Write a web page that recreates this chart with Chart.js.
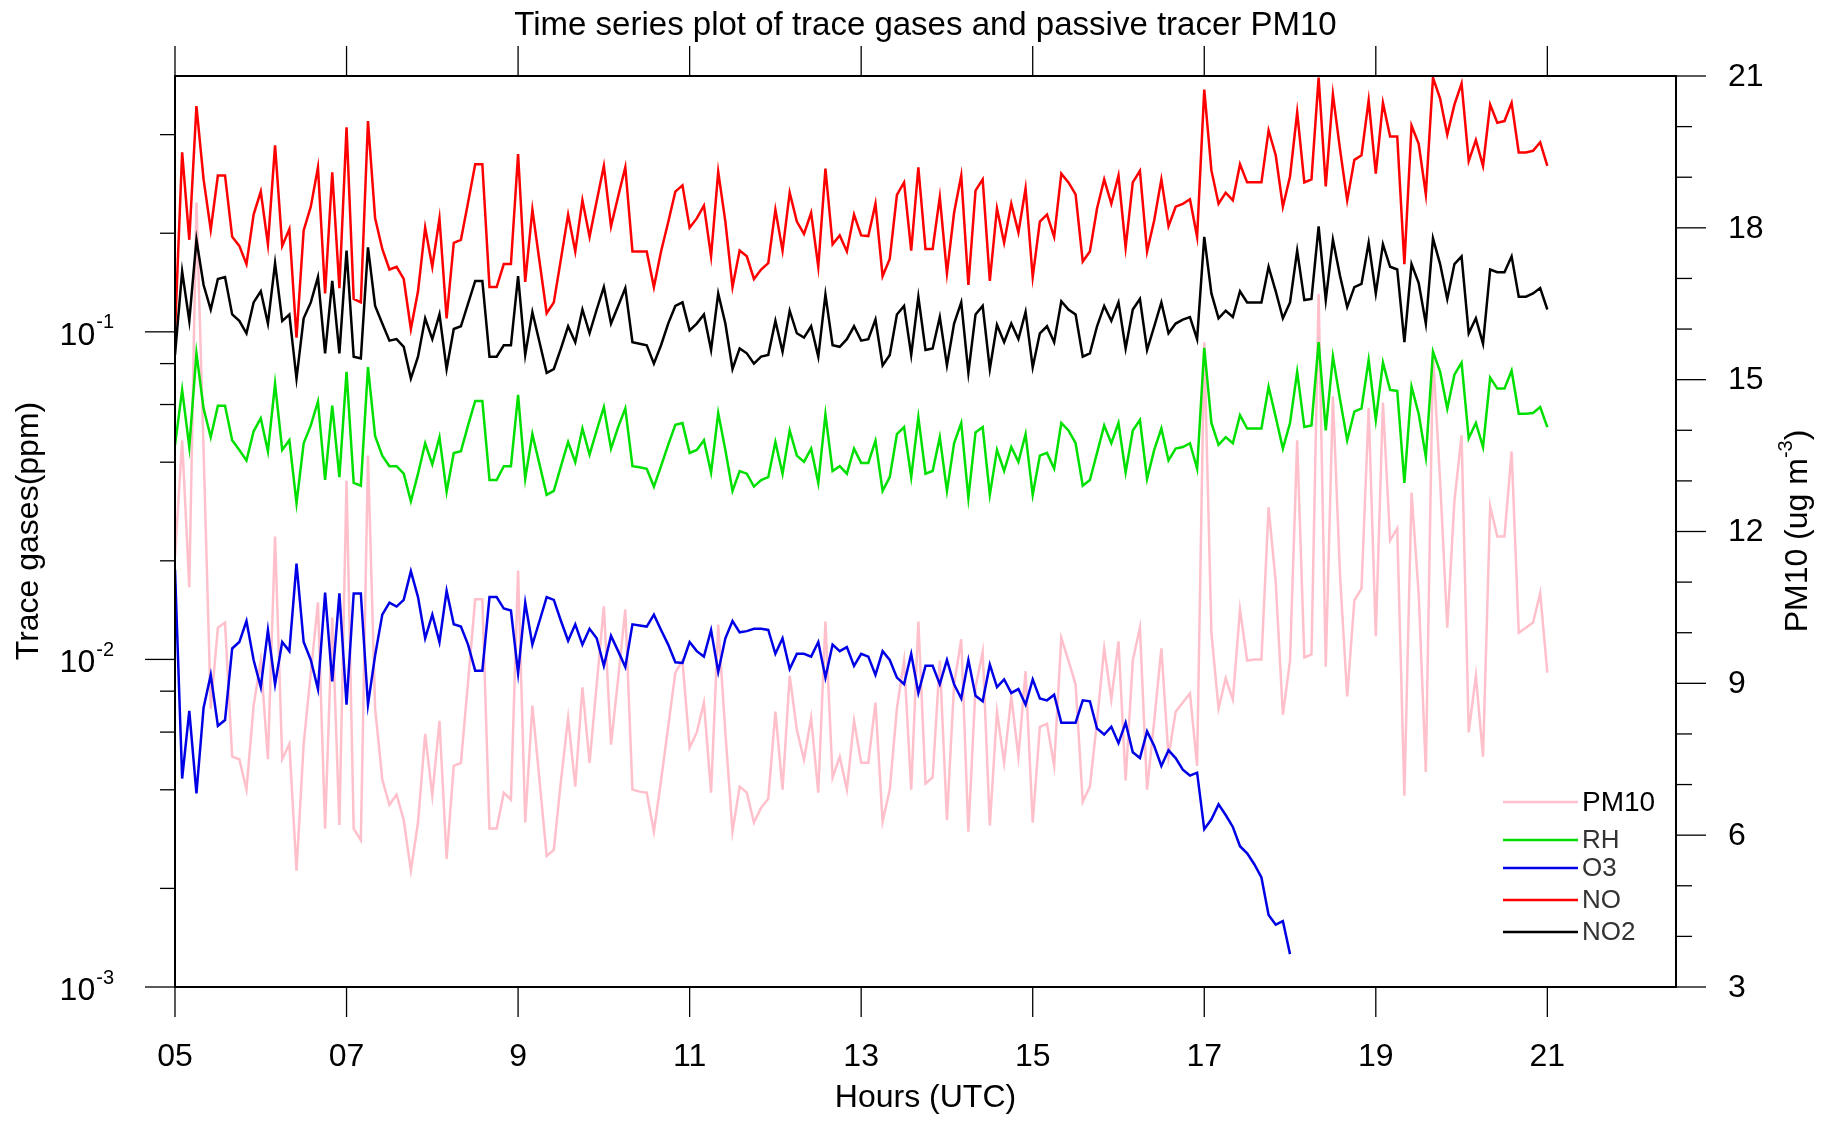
<!DOCTYPE html>
<html><head><meta charset="utf-8">
<script src="https://cdn.jsdelivr.net/npm/chart.js@4.4.1/dist/chart.umd.min.js"></script>
<style>html,body{margin:0;padding:0;background:#fff;}canvas{display:block;}</style>
</head><body>
<canvas id="c" width="1831" height="1122"></canvas>
<script>
// ---------------- data ----------------
const startHour = 5;
const stepMinutes = 5;
const xTickValues = [5, 7, 9, 11, 13, 15, 17, 19, 21];
const xTickLabels = ['05', '07', '9', '11', '13', '15', '17', '19', '21'];
const leftMajorTicks = [0.001, 0.01, 0.1];
const leftMajorExponents = ['-3', '-2', '-1'];
const leftMinorTicks = [0.002, 0.004, 0.006, 0.008, 0.02, 0.04, 0.06, 0.08, 0.2, 0.4];
const rightMajorTicks = [3, 6, 9, 12, 15, 18, 21];
const rightMinorTicks = [4, 5, 7, 8, 10, 11, 13, 14, 16, 17, 19, 20];
const seriesNames = ['PM10', 'RH', 'O3', 'NO', 'NO2'];

// NO (ppm), every 5 min from 05:00 to 21:00
const no = [
 0.100,0.353,0.191,0.489,0.292,0.205,0.300,0.300,0.195,0.183,0.161,0.228,
 0.268,0.185,0.371,0.183,0.206,0.096,0.204,0.241,0.318,0.131,0.307,0.136,
 0.421,0.126,0.123,0.440,0.222,0.179,0.155,0.158,0.145,0.102,0.133,0.208,
 0.158,0.222,0.110,0.187,0.191,0.248,0.325,0.325,0.137,0.137,0.161,0.161,
 0.349,0.142,0.236,0.164,0.114,0.123,0.167,0.228,0.176,0.252,0.195,0.251,
 0.321,0.210,0.259,0.318,0.176,0.176,0.176,0.137,0.176,0.216,0.268,0.280,
 0.208,0.222,0.243,0.170,0.308,0.217,0.137,0.177,0.170,0.145,0.155,0.162,
 0.236,0.177,0.266,0.217,0.199,0.231,0.158,0.315,0.185,0.197,0.176,0.228,
 0.197,0.196,0.246,0.148,0.167,0.262,0.286,0.177,0.318,0.179,0.179,0.258,
 0.151,0.231,0.300,0.139,0.270,0.292,0.143,0.238,0.187,0.246,0.201,0.274,
 0.147,0.217,0.228,0.195,0.304,0.286,0.263,0.164,0.176,0.238,0.292,0.246,
 0.300,0.181,0.286,0.310,0.176,0.219,0.292,0.210,0.241,0.246,0.254,0.195,
 0.549,0.311,0.246,0.266,0.252,0.325,0.286,0.286,0.286,0.412,0.346,0.241,
 0.298,0.468,0.286,0.292,0.597,0.278,0.531,0.360,0.252,0.335,0.346,0.509,
 0.304,0.500,0.395,0.395,0.161,0.426,0.375,0.263,0.597,0.515,0.400,0.494,
 0.573,0.332,0.385,0.321,0.494,0.435,0.440,0.500,0.353,0.353,0.357,0.379,
 0.321];

// NO2 (ppm)
const no2 = [
 0.085,
 0.153,0.108,0.191,0.139,0.117,0.145,0.147,0.113,0.108,0.099,0.123,0.133,0.106,0.162,0.108,0.113,0.072,0.110,0.123,0.147,
 0.086,0.143,0.086,0.177,0.084,0.083,0.181,0.120,0.106,0.094,0.095,0.090,0.072,0.084,0.110,
 0.095,0.113,0.077,0.102,0.104,0.122,0.143,0.143,0.084,0.084,0.091,0.091,0.148,0.085,0.115,0.093,0.075,0.077,0.089,0.104,
 0.093,0.117,0.099,0.117,0.137,0.106,0.120,0.136,0.093,0.092,0.091,0.080,0.091,0.106,0.120,
 0.123,0.101,0.106,0.113,0.088,0.131,0.106,0.077,0.089,0.086,0.080,0.084,0.085,0.108,0.087,0.116,0.099,0.096,0.104,0.084,
 0.130,0.091,0.090,0.095,0.104,0.094,0.095,0.109,0.079,0.085,0.113,0.120,0.085,0.128,0.088,
 0.089,0.111,0.079,0.106,0.123,0.075,0.113,0.120,0.077,0.105,0.093,0.106,0.095,0.115,0.078,0.099,0.104,0.093,0.124,0.117,
 0.113,0.084,0.086,0.104,0.120,0.108,0.123,0.089,0.117,0.126,0.088,0.104,0.123,0.099,0.106,
 0.109,0.111,0.095,0.195,0.131,0.110,0.116,0.111,0.133,0.123,0.123,0.123,0.158,0.133,0.110,0.123,0.177,0.125,0.126,0.210,
 0.125,0.191,0.148,0.119,0.137,0.140,0.187,0.131,0.185,0.158,0.155,0.093,0.161,0.141,0.106,
 0.193,0.161,0.126,0.161,0.170,0.099,0.110,0.092,0.155,0.152,0.152,0.170,0.128,0.128,0.131,0.136,0.117];

// RH series (drawn on the trace-gas axis)
const rh = [
 0.045,
 0.0665,0.0445,0.086,0.0583,0.0477,0.0595,0.0595,0.0467,0.0436,0.0405,0.0497,0.0545,0.0432,0.0694,0.0436,0.0467,0.030,0.0457,0.0518,0.0613,
 0.0353,0.0595,0.036,0.0755,0.0346,0.0339,0.078,0.048,0.0419,0.0389,0.0389,0.0369,0.0304,0.0369,0.0457,
 0.0394,0.0477,0.0325,0.0427,0.0432,0.0518,0.0615,0.0615,0.0353,0.0353,0.0389,0.0389,0.0642,0.0356,0.0487,0.0394,0.0318,0.0327,0.0389,0.0461,
 0.0400,0.0507,0.0422,0.050,0.0589,0.0440,0.0512,0.0584,0.0389,0.0386,0.0382,0.0337,0.0389,0.0452,0.052,
 0.0527,0.0427,0.0436,0.0467,0.0372,0.0565,0.0436,0.0327,0.0376,0.0369,0.0337,0.0353,0.036,0.0461,0.0369,0.050,0.0419,0.0401,0.044,0.0346,
 0.056,0.0376,0.0389,0.0369,0.044,0.0398,0.0398,0.0465,0.0327,0.036,0.0487,0.0512,0.036,0.0549,0.0369,
 0.0376,0.0477,0.0327,0.0457,0.0527,0.0311,0.0493,0.0512,0.0318,0.0436,0.0376,0.0445,0.0401,0.0487,0.0318,0.0419,0.0427,0.0382,0.0527,0.050,
 0.0457,0.0339,0.0353,0.0427,0.0518,0.0457,0.0527,0.0372,0.050,0.0538,0.0356,0.0436,0.0507,0.0405,0.044,
 0.0445,0.0457,0.0382,0.0894,0.0527,0.0452,0.0477,0.0457,0.0557,0.0507,0.0507,0.0507,0.068,0.0549,0.044,0.0527,0.0755,0.0512,0.0518,0.093,
 0.050,0.084,0.0621,0.0467,0.0571,0.0584,0.0821,0.0538,0.0805,0.0665,0.066,0.0346,0.068,0.0562,0.0415,
 0.087,0.0755,0.0583,0.074,0.0805,0.0473,0.0527,0.0445,0.0725,0.0671,0.0671,0.0761,0.0562,0.0562,0.0565,0.0589,0.0512];

// O3 (ppm), 05:00 to 18:00
const o3 = [
 0.0188,
 0.00433,0.00697,0.0039,0.00712,0.00897,0.00627,0.00653,0.0108,0.0113,0.0131,0.00996,0.00823,0.0123,0.0084,0.0113,0.0106,0.0196,0.0113,0.00996,0.00812,
 0.016,0.00857,0.0159,0.00728,0.0159,0.0159,0.00728,0.0103,0.0137,0.0149,0.0145,0.0152,0.0186,0.0155,0.0116,
 0.0137,0.0113,0.0162,0.0128,0.0126,0.0111,0.00924,0.00924,0.0155,0.0155,0.0143,0.0141,0.00909,0.0149,0.0111,0.0131,0.0155,0.0152,0.0131,0.0114,
 0.0128,0.0111,0.0124,0.0116,0.00956,0.0118,0.0106,0.00948,0.0128,0.0127,0.0126,0.0137,0.0123,0.0111,0.0098,
 0.00975,0.0113,0.0106,0.0102,0.0123,0.00916,0.0116,0.0131,0.0121,0.0122,0.0124,0.0124,0.0123,0.0104,0.0116,0.00935,0.0104,0.0104,0.0102,0.0113,
 0.0088,0.0111,0.0106,0.0109,0.00956,0.0104,0.0102,0.00897,0.0106,0.00996,0.0088,0.0084,0.0104,0.0079,0.00956,
 0.00956,0.0084,0.00996,0.0084,0.0076,0.00996,0.00775,0.00745,0.00964,0.00823,0.00869,0.0079,0.00812,0.00728,0.00869,0.0076,0.0075,0.0078,0.00641,0.00641,
 0.00641,0.0075,0.00745,0.00615,0.0059,0.00623,0.00555,0.00641,0.00521,0.005,0.00603,0.00544,0.00473,0.00528,0.005,
 0.00461,0.00442,0.00451,0.00303,0.00325,0.00361,0.00335,0.00308,0.00269,0.00256,0.00237,0.00216,0.00166,0.00155,0.00159,0.00126];

// PM10 (ug m-3), right axis
const pm10 = [
 11.5,
 13.8,10.9,18.5,13.6,8.5,10.1,10.2,7.55,7.5,6.9,8.56,9.45,7.5,11.9,7.5,7.8,5.3,7.8,9.2,10.6,
 6.13,10.3,6.2,13.0,6.13,5.9,13.5,8.5,7.1,6.6,6.8,6.3,5.3,6.25,8.0,
 6.78,8.26,5.53,7.37,7.43,9.03,10.66,10.66,6.13,6.13,6.84,6.7,11.23,6.25,8.56,7.08,5.59,5.71,7.08,8.32,
 6.96,8.92,7.43,8.98,10.52,7.79,9.1,10.46,6.9,6.86,6.84,6.07,7.08,8.14,9.21,
 9.45,7.73,8.03,8.62,6.84,10.16,8.03,6.07,6.96,6.84,6.25,6.54,6.72,8.44,6.9,9.15,8.08,7.49,8.32,6.84,
 10.22,7.14,7.55,6.9,8.26,7.43,7.43,8.62,6.27,6.9,8.5,9.45,6.9,10.22,7.02,
 7.14,9.45,6.3,8.98,9.87,6.07,8.92,9.63,6.19,8.44,7.43,8.74,7.55,9.24,6.25,8.14,8.2,7.37,9.9,9.45,
 8.98,6.66,6.96,8.26,9.69,8.68,9.83,7.08,9.45,10.1,6.9,8.26,9.69,7.55,8.44,
 8.62,8.8,7.37,15.74,10.0,8.5,9.1,8.68,10.46,9.45,9.47,9.47,12.48,11.0,8.38,9.45,13.8,9.51,9.57,16.69,
 9.33,14.67,11.11,8.74,10.64,10.87,14.44,9.93,14.55,11.82,12.06,6.78,12.77,10.76,7.25,
 15.5,13.0,10.1,12.6,13.9,8.03,9.15,7.55,12.5,11.9,11.9,13.58,10.0,10.1,10.2,10.78,9.21];

// time stamps (hours UTC)
const times = pm10.map((_, i) => startHour + i * stepMinutes / 60);
const toXY = arr => arr.map((v, i) => ({ x: times[i], y: v }));

// ---------------- style ----------------
const FONT = '"Liberation Sans", Arial, Helvetica, sans-serif';
const colors = { PM10: '#ffc0cb', RH: '#00e000', O3: '#0000e6', NO: '#ff0000', NO2: '#000000' };

const frame = {
  id: 'frame',
  afterDraw(chart) {
    const { ctx, chartArea: a, scales } = chart;
    const x = scales.x, yL = scales.yL, yR = scales.yR;
    const seg = (x1, y1, x2, y2) => { ctx.beginPath(); ctx.moveTo(x1, y1); ctx.lineTo(x2, y2); ctx.stroke(); };
    ctx.save();
    ctx.strokeStyle = '#000';
    ctx.fillStyle = '#000';
    ctx.lineWidth = 1.3;
    // x ticks (bottom and top, outward)
    xTickValues.forEach((v, i) => {
      const px = x.getPixelForValue(v);
      seg(px, a.bottom, px, a.bottom + 30);
      seg(px, a.top, px, a.top - 30);
      ctx.font = '32px ' + FONT; ctx.textAlign = 'center'; ctx.textBaseline = 'middle';
      ctx.fillText(xTickLabels[i], px, a.bottom + 70);
    });
    // left axis ticks
    leftMinorTicks.forEach(v => { const py = yL.getPixelForValue(v); seg(a.left - 15, py, a.left, py); });
    leftMajorTicks.forEach((v, i) => {
      const py = yL.getPixelForValue(v);
      seg(a.left - 30, py, a.left, py);
      const rx = a.left - 61;
      ctx.font = '20px ' + FONT;
      const w = ctx.measureText(leftMajorExponents[i]).width;
      ctx.textAlign = 'left'; ctx.textBaseline = 'middle';
      ctx.fillText(leftMajorExponents[i], rx - w, py - 9);
      ctx.font = '32px ' + FONT; ctx.textAlign = 'right';
      ctx.fillText('10', rx - w - 1, py + 4);
    });
    // right axis ticks
    rightMinorTicks.forEach(v => { const py = yR.getPixelForValue(v); seg(a.right, py, a.right + 16, py); });
    rightMajorTicks.forEach(v => {
      const py = yR.getPixelForValue(v);
      seg(a.right, py, a.right + 30, py);
      ctx.font = '32px ' + FONT; ctx.textAlign = 'left'; ctx.textBaseline = 'middle';
      ctx.fillText(String(v), a.right + 52, py + 1);
    });
    // frame
    ctx.lineWidth = 2;
    ctx.strokeRect(a.left, a.top, a.right - a.left, a.bottom - a.top);
    // titles
    ctx.textAlign = 'center'; ctx.textBaseline = 'alphabetic';
    ctx.font = '33px ' + FONT;
    ctx.fillText('Time series plot of trace gases and passive tracer PM10', (a.left + a.right) / 2, 35);
    ctx.font = '32px ' + FONT; ctx.textBaseline = 'middle';
    ctx.fillText('Hours (UTC)', (a.left + a.right) / 2, 1098);
    // left title
    ctx.save();
    ctx.translate(29, 531); ctx.rotate(-Math.PI / 2);
    ctx.font = '32px ' + FONT; ctx.textAlign = 'center'; ctx.textBaseline = 'middle';
    ctx.fillText('Trace gases(ppm)', 0, 0);
    ctx.restore();
    // right title with superscript
    ctx.save();
    ctx.translate(1798, 531); ctx.rotate(-Math.PI / 2);
    ctx.textBaseline = 'middle'; ctx.textAlign = 'left';
    const p1 = 'PM10 (ug m', sup = '-3', p2 = ')';
    ctx.font = '32px ' + FONT; const w1 = ctx.measureText(p1).width, w3 = ctx.measureText(p2).width;
    ctx.font = '20px ' + FONT; const w2 = ctx.measureText(sup).width;
    const start = -(w1 + w2 + w3) / 2;
    ctx.font = '32px ' + FONT; ctx.fillText(p1, start, 0);
    ctx.font = '20px ' + FONT; ctx.fillText(sup, start + w1, -12);
    ctx.font = '32px ' + FONT; ctx.fillText(p2, start + w1 + w2, 0);
    ctx.restore();
    // legend
    const rowsY = [802, 840, 868, 900, 932];
    seriesNames.forEach((name, i) => {
      const y = rowsY[i];
      ctx.strokeStyle = colors[name]; ctx.lineWidth = 2.5;
      seg(1503, y, 1578, y);
      ctx.fillStyle = i === 0 ? '#000' : '#333';
      ctx.font = (i === 0 ? '28px ' : '26px ') + FONT;
      ctx.textAlign = 'left'; ctx.textBaseline = 'middle';
      ctx.fillText(name, 1582, y + 1);
    });
    ctx.restore();
  }
};

new Chart(document.getElementById('c').getContext('2d'), {
  type: 'line',
  data: {
    datasets: [
      { label: 'PM10', data: toXY(pm10), borderColor: colors.PM10, yAxisID: 'yR', order: 5 },
      { label: 'RH', data: toXY(rh), borderColor: colors.RH, yAxisID: 'yL', order: 4 },
      { label: 'O3', data: toXY(o3), borderColor: colors.O3, yAxisID: 'yL', order: 3 },
      { label: 'NO', data: toXY(no), borderColor: colors.NO, yAxisID: 'yL', order: 2 },
      { label: 'NO2', data: toXY(no2), borderColor: colors.NO2, yAxisID: 'yL', order: 1 }
    ]
  },
  options: {
    responsive: false,
    animation: false,
    devicePixelRatio: 1,
    layout: { padding: { left: 175, top: 76, right: 155, bottom: 135 } },
    elements: { point: { radius: 0 }, line: { borderWidth: 2.5, tension: 0, fill: false } },
    plugins: { legend: { display: false }, tooltip: { enabled: false }, title: { display: false } },
    scales: {
      x: { type: 'linear', min: 5, max: 22.5, display: false },
      yL: { type: 'logarithmic', position: 'left', min: 0.001, max: 0.604, display: false },
      yR: { type: 'linear', position: 'right', min: 3, max: 21, display: false }
    }
  },
  plugins: [frame]
});
</script>
</body></html>
